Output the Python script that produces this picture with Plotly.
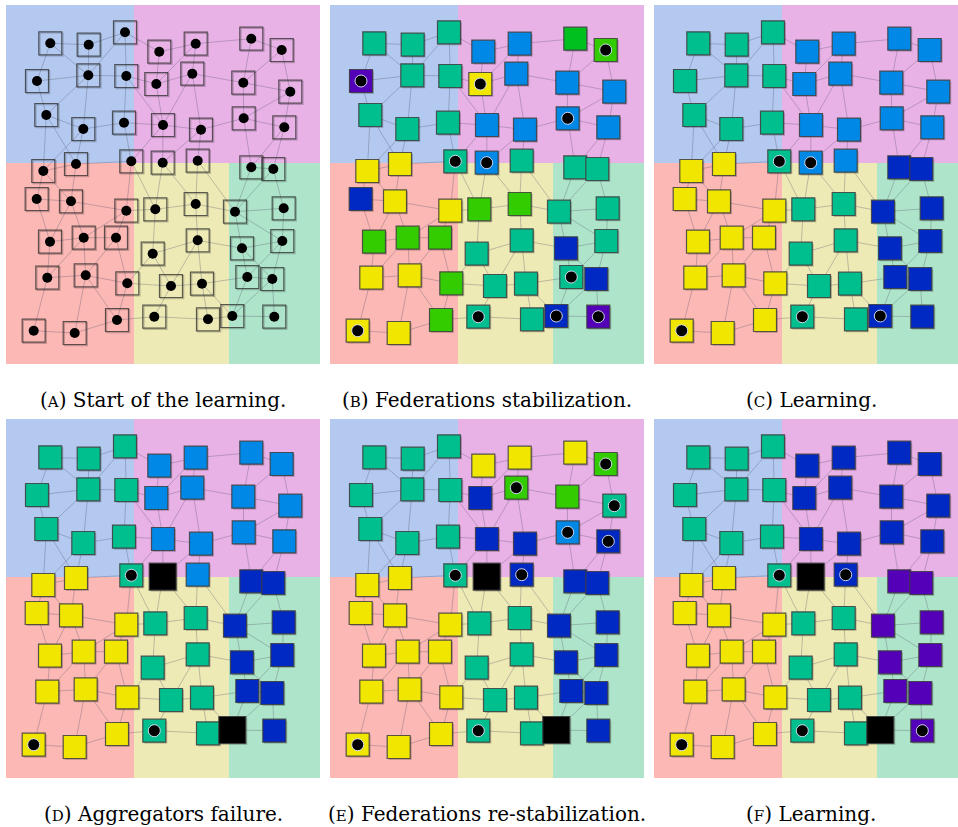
import plotly.graph_objects as go

# ---------------- data ----------------
node_x = [44.3, 82.7, 119.0, 153.3, 189.7, 245.3, 275.7, 31.0, 82.3, 120.3, 150.3, 186.3, 237.3, 284.3,
          40.3, 77.3, 118.0, 157.0, 195.0, 237.7, 278.3, 37.3, 70.0, 125.3, 156.7, 191.7, 245.3, 267.3,
          30.7, 65.0, 120.3, 149.3, 189.7, 229.0, 277.7, 44.0, 77.7, 110.0, 146.7, 191.7, 236.0, 276.3,
          41.3, 79.7, 121.3, 165.0, 196.0, 241.3, 266.3, 27.7, 68.7, 111.0, 148.3, 202.0, 226.3, 268.3]
node_y = [38.3, 39.7, 27.3, 46.7, 38.7, 33.7, 45.0, 76.0, 70.3, 71.0, 79.0, 68.7, 77.7, 86.7,
          110.0, 124.0, 117.7, 120.0, 124.7, 113.3, 122.3, 166.0, 159.0, 156.3, 157.7, 155.7, 162.3, 164.0,
          194.0, 196.3, 205.7, 204.3, 199.0, 206.7, 203.3, 236.7, 232.7, 232.7, 248.7, 235.3, 243.3, 236.0,
          272.7, 270.3, 278.3, 281.0, 278.7, 272.0, 274.0, 325.7, 328.0, 315.0, 311.7, 314.3, 311.0, 311.7]

edges = [(1,2),(2,3),(1,8),(1,9),(2,9),(3,9),(3,10),(3,4),(4,5),(4,11),(5,11),(5,12),(5,6),(6,7),
         (6,13),(7,13),(7,14),(8,9),(8,15),(9,10),(9,15),(9,16),(10,11),(10,17),(10,18),(11,12),(11,18),
         (12,13),(12,18),(12,19),(13,14),(13,20),(14,20),(14,21),(15,16),(15,22),(15,23),(16,17),(16,22),
         (16,23),(17,18),(17,24),(18,19),(18,24),(18,25),(19,20),(19,25),(19,26),(20,21),(20,27),(21,27),
         (21,28),(27,28),(22,23),(23,24),(22,29),(22,30),(23,30),(24,31),(24,32),(25,32),(25,33),(26,33),
         (26,34),(27,34),(28,34),(28,35),(29,30),(29,36),(30,36),(30,37),(30,31),(31,32),(31,37),(31,38),
         (32,33),(32,39),(33,34),(33,40),(34,35),(34,41),(34,42),(35,42),(36,37),(36,43),(37,38),(37,43),
         (37,44),(38,44),(38,45),(39,40),(39,45),(39,46),(40,41),(40,46),(40,47),(41,42),(41,48),(42,48),
         (42,49),(43,44),(43,50),(44,45),(44,51),(44,52),(45,46),(45,52),(46,47),(46,53),(47,48),(47,54),
         (48,49),(48,55),(49,55),(49,56),(50,51),(51,52),(52,53),(53,54),(54,55),(55,56),(47,55),(41,49)]

# node state codes per panel (T teal, Y yellow, G green, H bright green, A azure, B blue, V violet, K failed)
states_b = "TTTAAHGVTTYAAATTTAAAAYYTATTTBYYGGTTGGGTTBTYYGTTTBYYGTTBV"
states_c = "TTTAAAATTTAAAATTTAAAAYYTAABBYYYTTBBYYYTTBBYYYTTBBYYYTTBB"
states_d = "TTTAAAATTTAAAATTTAAAAYYTKABBYYYTTBBYYYTTBBYYYTTBBYYYTTKB"
states_e = "TTTYYYGTTTBGGTTTTBBABYYTKBBBYYYTTBBYYYTTBBYYYTTBBYYYTTKB"
states_f = "TTTBBBBTTTBBBBTTTBBBBYYTKBVVYYYTTVVYYYTTVVYYYTTVVYYYTTKV"

aggregators_a = list(range(1, 57))
aggregators_b = [7, 8, 11, 20, 24, 25, 48, 50, 53, 55, 56]
aggregators_c = [24, 25, 50, 53, 55]
aggregators_d = [24, 50, 53]
aggregators_e = [7, 12, 14, 20, 21, 24, 26, 50, 53]
aggregators_f = [24, 26, 50, 53, 56]

captions = ["(<span style='font-size:15px'>A</span>) Start of the learning.",
            "(<span style='font-size:15px'>B</span>) Federations stabilization.",
            "(<span style='font-size:15px'>C</span>) Learning.",
            "(<span style='font-size:15px'>D</span>) Aggregators failure.",
            "(<span style='font-size:15px'>E</span>) Federations re-stabilization.",
            "(<span style='font-size:15px'>F</span>) Learning."]

region_names = ["blue", "pink", "red", "yellow", "green"]
region_x0 = [0, 128, 0, 128, 223]
region_x1 = [128, 314, 128, 223, 314]
region_y0 = [0, 0, 158, 158, 158]
region_y1 = [158, 158, 359, 359, 359]
region_colors = ["#b3c9ef", "#e9b2e6", "#fcb8b4", "#edeab5", "#aee5ca"]

state_colors = {"T": "#00bf8f", "Y": "#f0e600", "G": "#33cc00", "H": "#00c020",
                "A": "#0088e6", "B": "#0028c2", "V": "#5300b8", "K": "#000000"}

# ---------------- layout helpers ----------------
W, H = 958, 827
PW, PH = 314, 359
col_x0 = [6, 330, 654]
row_y0 = [5, 419]
panels = [(None, aggregators_a), (states_b, aggregators_b), (states_c, aggregators_c),
          (states_d, aggregators_d), (states_e, aggregators_e), (states_f, aggregators_f)]

fig = go.Figure()
shapes = []
annotations = []

for p, (states, aggs) in enumerate(panels):
    r, c = divmod(p, 3)
    x0 = col_x0[c]
    x1 = min(x0 + PW, W)
    y0 = row_y0[r]
    y1 = y0 + PH
    xr = x1 - x0
    ax = "" if p == 0 else str(p + 1)
    xa, ya = "x" + ax, "y" + ax
    fig.layout["xaxis" + ax] = dict(domain=[x0 / W, x1 / W], range=[0, xr], visible=False,
                                   fixedrange=True, anchor=ya)
    fig.layout["yaxis" + ax] = dict(domain=[1 - y1 / H, 1 - y0 / H], range=[PH, 0], visible=False,
                                   fixedrange=True, anchor=xa)
    for i in range(len(region_names)):
        shapes.append(dict(type="rect", xref=xa, yref=ya, layer="below", line=dict(width=0),
                           x0=region_x0[i], x1=min(region_x1[i], xr), y0=region_y0[i], y1=region_y1[i],
                           fillcolor=region_colors[i]))
    # edges
    ex, ey = [], []
    for a, b in edges:
        ex += [node_x[a - 1], node_x[b - 1], None]
        ey += [node_y[a - 1], node_y[b - 1], None]
    fig.add_trace(go.Scatter(x=ex, y=ey, mode="lines", xaxis=xa, yaxis=ya, hoverinfo="skip",
                             line=dict(color="rgba(85,85,110,0.33)", width=1), showlegend=False))
    if states is None:
        fig.add_trace(go.Scatter(x=[v + 1.2 for v in node_x], y=[v + 1.2 for v in node_y], mode="markers",
                                 xaxis=xa, yaxis=ya, hoverinfo="skip", showlegend=False,
                                 marker=dict(symbol="square", size=23, color="rgba(0,0,0,0)", opacity=1,
                                             line=dict(color="rgba(0,0,0,0.22)", width=1.2))))
        fig.add_trace(go.Scatter(x=node_x, y=node_y, mode="markers", xaxis=xa, yaxis=ya, showlegend=False,
                                 marker=dict(symbol="square", size=23, color="rgba(0,0,0,0)", opacity=1,
                                             line=dict(color="rgba(40,40,40,0.75)", width=1.2))))
        fig.add_trace(go.Scatter(x=[node_x[i - 1] for i in aggs], y=[node_y[i - 1] for i in aggs],
                                 mode="markers", xaxis=xa, yaxis=ya, showlegend=False,
                                 marker=dict(symbol="circle", size=10, color="black", opacity=1)))
    else:
        sizes = [27 if s == "K" else 23 for s in states]
        cols = [state_colors[s] for s in states]
        fig.add_trace(go.Scatter(x=[v + 1.5 for v in node_x], y=[v + 1.5 for v in node_y], mode="markers",
                                 xaxis=xa, yaxis=ya, hoverinfo="skip", showlegend=False,
                                 marker=dict(symbol="square", size=sizes, color="rgba(0,0,0,0.2)",
                                             opacity=1, line=dict(width=0))))
        fig.add_trace(go.Scatter(x=node_x, y=node_y, mode="markers", xaxis=xa, yaxis=ya, showlegend=False,
                                 marker=dict(symbol="square", size=sizes, color=cols, opacity=1,
                                             line=dict(color="rgba(60,60,60,0.85)", width=1.2))))
        fig.add_trace(go.Scatter(x=[node_x[i - 1] for i in aggs], y=[node_y[i - 1] for i in aggs],
                                 mode="markers", xaxis=xa, yaxis=ya, showlegend=False,
                                 marker=dict(symbol="circle", size=12, color="black", opacity=1,
                                             line=dict(color="rgba(225,230,255,0.9)", width=1))))
    annotations.append(dict(text=captions[p], xref="paper", yref="paper",
                            x=(col_x0[c] + PW / 2) / W, y=1 - (y1 + 36) / H,
                            xanchor="center", yanchor="middle", showarrow=False,
                            font=dict(family="DejaVu Serif", size=20, color="black")))

fig.update_layout(width=W, height=H, margin=dict(l=0, r=0, t=0, b=0),
                  paper_bgcolor="white", plot_bgcolor="rgba(0,0,0,0)",
                  shapes=shapes, annotations=annotations, showlegend=False)

fig.write_html("out.html", config={"displayModeBar": False},
               post_script="document.body.style.margin='0px';document.body.style.overflow='hidden';")
